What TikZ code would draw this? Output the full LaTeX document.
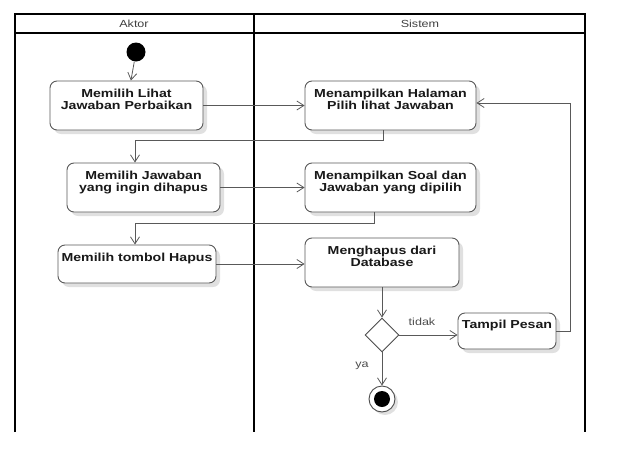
\documentclass[tikz,border=0pt]{standalone}
\usepackage{fontspec}
\setmainfont{Liberation Sans}
\newfontfamily\widefont[FakeStretch=1.22]{Liberation Sans}
\usetikzlibrary{arrows.meta,shapes.geometric,shadows}
\begin{document}
\begin{tikzpicture}[x=1pt,y=-1pt,
  lane/.style={line width=1.6pt,black},
  act/.style={draw=black!65,line width=0.9pt,rounded corners=7pt,fill=white,
    drop shadow={shadow xshift=4pt,shadow yshift=-4pt,opacity=0.12,fill=black}},
  txt/.style={font=\widefont\fontsize{11.6}{12.6}\selectfont\bfseries,align=center,inner sep=0pt,anchor=north,text=black!90},
  arr/.style={draw=black!65,line width=0.8pt,-{Straight Barb[length=7pt,width=9pt]}},
  lbl/.style={font=\widefont\fontsize{10.3}{12}\selectfont,text=black!70,inner sep=0pt}
]
\useasboundingbox (0,0) rectangle (619,453);
% swimlanes
\draw[lane] (15,432) -- (15,14) -- (585,14) -- (585,432);
\draw[line width=1.2pt] (15,33) -- (585,33);
\draw[line width=2.6pt] (254,14) -- (254,432);
\node[lbl,text=black!75] (hA) at (134,24) {Aktor};
\node[lbl,text=black!75] (hS) at (420,24) {Sistem};
% start
\node[circle,fill=black,minimum size=19pt,inner sep=0pt] (start) at (136,52) {};
% actions
\node[act,minimum width=153pt,minimum height=49pt] (n1) at (126.5,105.5) {};
\node[txt] (t1) at ([yshift=-8pt]n1.north) {Memilih Lihat\\Jawaban Perbaikan};
\node[act,minimum width=171pt,minimum height=49pt] (n2) at (390.5,105.5) {};
\node[txt] (t2) at ([yshift=-8pt]n2.north) {Menampilkan Halaman\\Pilih lihat Jawaban};
\node[act,minimum width=153pt,minimum height=49pt] (n3) at (143.5,187.5) {};
\node[txt] (t3) at ([yshift=-8pt]n3.north) {Memilih Jawaban\\yang ingin dihapus};
\node[act,minimum width=171pt,minimum height=49pt] (n4) at (390.5,187.5) {};
\node[txt] (t4) at ([yshift=-8pt]n4.north) {Menampilkan Soal dan\\Jawaban yang dipilih};
\node[act,minimum width=158pt,minimum height=38pt] (n5) at (137,264) {};
\node[txt] (t5) at ([yshift=-8pt]n5.north) {Memilih tombol Hapus};
\node[act,minimum width=154pt,minimum height=49pt] (n6) at (382,262.5) {};
\node[txt] (t6) at ([yshift=-8pt]n6.north) {Menghapus dari\\Database};
\node[act,minimum width=98pt,minimum height=36pt] (tp) at (507,331) {};
\node[txt] (t7) at ([yshift=-7pt]tp.north) {Tampil Pesan};
% decision
\node[diamond,draw=black!70,line width=0.9pt,fill=white,minimum width=34pt,minimum height=34pt,inner sep=0pt,aspect=1] (d) at (382,335) {};
% end
\node[circle,draw=black!70,line width=0.9pt,fill=white,minimum size=26pt,inner sep=0pt,
  drop shadow={shadow xshift=3pt,shadow yshift=-3pt,opacity=0.12,fill=black}] (end) at (382,399) {};
\node[circle,fill=black,minimum size=16pt,inner sep=0pt] (endi) at (end.center) {};
% coordinates
\coordinate (c1) at (135,140);
\coordinate (c2) at (135,223);
\coordinate (c3) at (570,103);
% connectors
\draw[arr] (start) -- (n1);
\draw[arr] (n1) -- (n2);
\draw[arr] ([xshift=-7.5pt]n2.south) |- (c1) -- (c1 |- n3.north);
\draw[arr] (n3) -- (n4);
\draw[arr] ([xshift=-16.5pt]n4.south) |- (c2) -- (c2 |- n5.north);
\draw[arr] (n5.east) -- (n5.east -| n6.west);
\draw[arr] (n6) -- (d);
\draw[arr] (d.east) -- (d.east -| tp.west);
\draw[arr] (tp.east) -- (tp.east -| c3) -- (c3) -- (c3 -| n2.east);
\draw[arr] (d.south) -- (end.north);
% labels
\node[lbl] (ltidak) at (422,322) {tidak};
\node[lbl] (lya) at (362,366) {ya};
\end{tikzpicture}
\end{document}
